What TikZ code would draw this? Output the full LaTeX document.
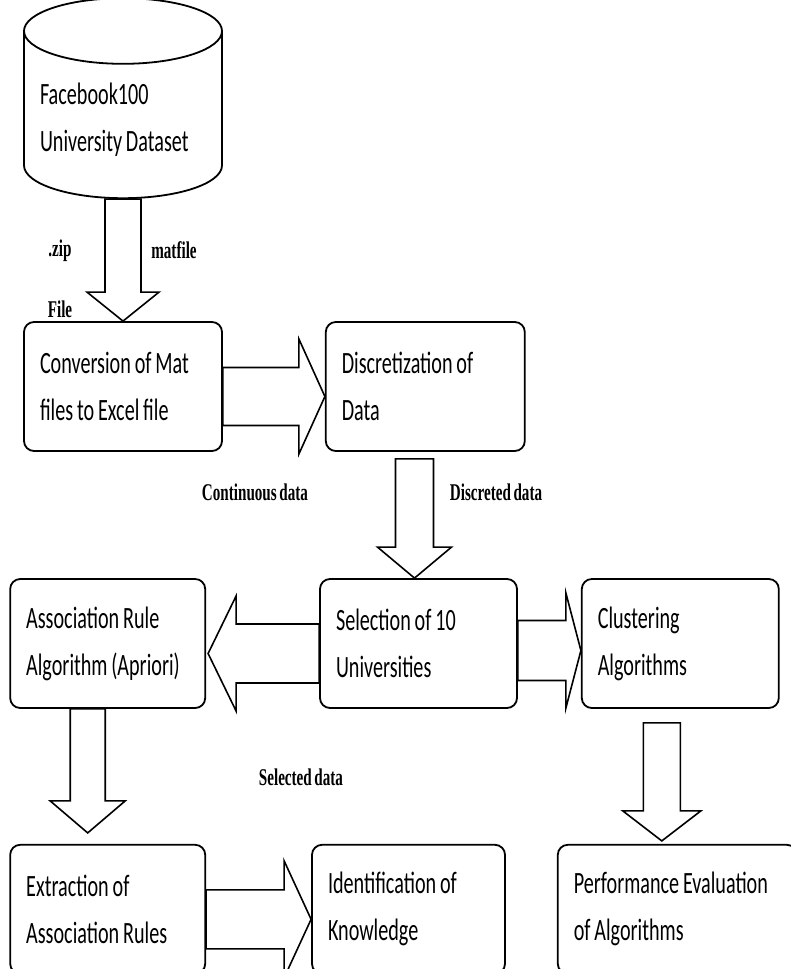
\documentclass[tikz,border=0pt]{standalone}
\usepackage{fontspec}
\newfontfamily\boxfont[FakeStretch=0.65, WordSpace=0.85]{Carlito}
\newfontfamily\notefont[FakeStretch=0.63, WordSpace=0.7]{Liberation Serif}
\usetikzlibrary{positioning, calc, shapes.geometric}
\hyphenpenalty=10000
\exhyphenpenalty=10000

% hollow block arrows: start, tip, half shaft, half head, head length
\newcommand{\downblock}[5]{%
  \draw[blockarrow] let \p1=#1, \p2=#2 in
    ({\x2-#3},\y1) -- ({\x2-#3},{\y2+#5}) -- ({\x2-#4},{\y2+#5}) -- (\x2,\y2)
    -- ({\x2+#4},{\y2+#5}) -- ({\x2+#3},{\y2+#5}) -- ({\x2+#3},\y1) -- cycle;}
% same, sideways; last argument 1 = to the right, -1 = to the left
\newcommand{\sideblock}[6]{%
  \draw[blockarrow] let \p1=#1, \p2=#2 in
    (\x1,{\y2+#3}) -- ({\x2-(#6)*(#5)},{\y2+#3}) -- ({\x2-(#6)*(#5)},{\y2+#4}) -- (\x2,\y2)
    -- ({\x2-(#6)*(#5)},{\y2-#4}) -- ({\x2-(#6)*(#5)},{\y2-#3}) -- (\x1,{\y2-#3}) -- cycle;}

\begin{document}
\begin{tikzpicture}[
    x=1pt, y=-1pt,
    source/.style={cylinder, draw, shape border rotate=90, aspect=0.38,
                   minimum width=198pt, minimum height=200pt, line width=1.8pt,
                   text width=166pt, align=flush left,
                   font=\boxfont\fontsize{31pt}{47pt}\selectfont},
    process/.style={rectangle, draw, rounded corners=10pt, line width=1.8pt,
                    minimum height=129pt, inner xsep=16pt, text width=#1,
                    align=flush left, font=\boxfont\fontsize{31pt}{47pt}\selectfont},
    process/.default=165pt,
    blockarrow/.style={draw, fill=white, line width=1.6pt, line join=miter},
    note/.style={font=\notefont\bfseries\fontsize{24pt}{28pt}\selectfont, inner sep=0pt}
]
\clip (0,0) rectangle (791,969);
% --- Datos de entrada ---
\node[process=166pt] (conv) at (123,386.5) {Conversion of Mat\\files to Excel file};
\node[source, above=122pt of conv] (db) {Facebook100\\University Dataset};
\node[process=167pt, right=102pt of conv] (disc) {Discretization of\\Data};
% --- Seleccion ---
\node[process] (sel) at (418.5,643.5) {Selection of 10\\Universities};
\node[process=163pt, left=113pt of sel] (assoc) {Association Rule\\Algorithm (Apriori)};
\node[process, right=63pt of sel] (clust) {Clustering\\Algorithms};
% --- Resultados ---
\node[process=163pt, below=135pt of assoc] (extr) {Extraction of\\Association Rules};
\node[process=161pt, right=105pt of extr] (ident) {Identification of\\Knowledge};
\node[process=207pt, right=51pt of ident] (perf) {Performance Evaluation\\of Algorithms};
% --- Flechas ---
\downblock{(db.south)}{(conv.north)}{18pt}{36pt}{29pt}
\sideblock{(conv.east)}{($(disc.west)+(0,10)$)}{29pt}{57.5pt}{26pt}{1}
\downblock{($(disc.south)+(0,7)$)}{($(sel.north)+(-4,0)$)}{19pt}{37pt}{31pt}
\sideblock{(sel.west)}{($(assoc.east)+(2,10)$)}{29.5pt}{57.5pt}{28pt}{-1}
\sideblock{(sel.east)}{($(clust.west)+(0,7)$)}{30pt}{57.5pt}{15pt}{1}
\downblock{(assoc.south)}{($(extr.north)+(-20,-11)$)}{17.5pt}{37.5pt}{32pt}
\downblock{($(clust.south)+(0,14)$)}{($(perf.north)+(-15.5,-3)$)}{18.5pt}{39pt}{30pt}
\sideblock{(extr.east)}{($(ident.west)+(0,10)$)}{29.5pt}{58.5pt}{27pt}{1}
% --- Etiquetas ---
\node[note] (zip) at (60,251) {.zip};
\node[note] (mat) at (174,250) {matfile};
\node[note] (file) at (60,309) {File};
\node[note] (cont) at (255,492) {Continuous data};
\node[note] (discd) at (496,492) {Discreted data};
\node[note] (seld) at (301,777) {Selected data};
\end{tikzpicture}
\end{document}
